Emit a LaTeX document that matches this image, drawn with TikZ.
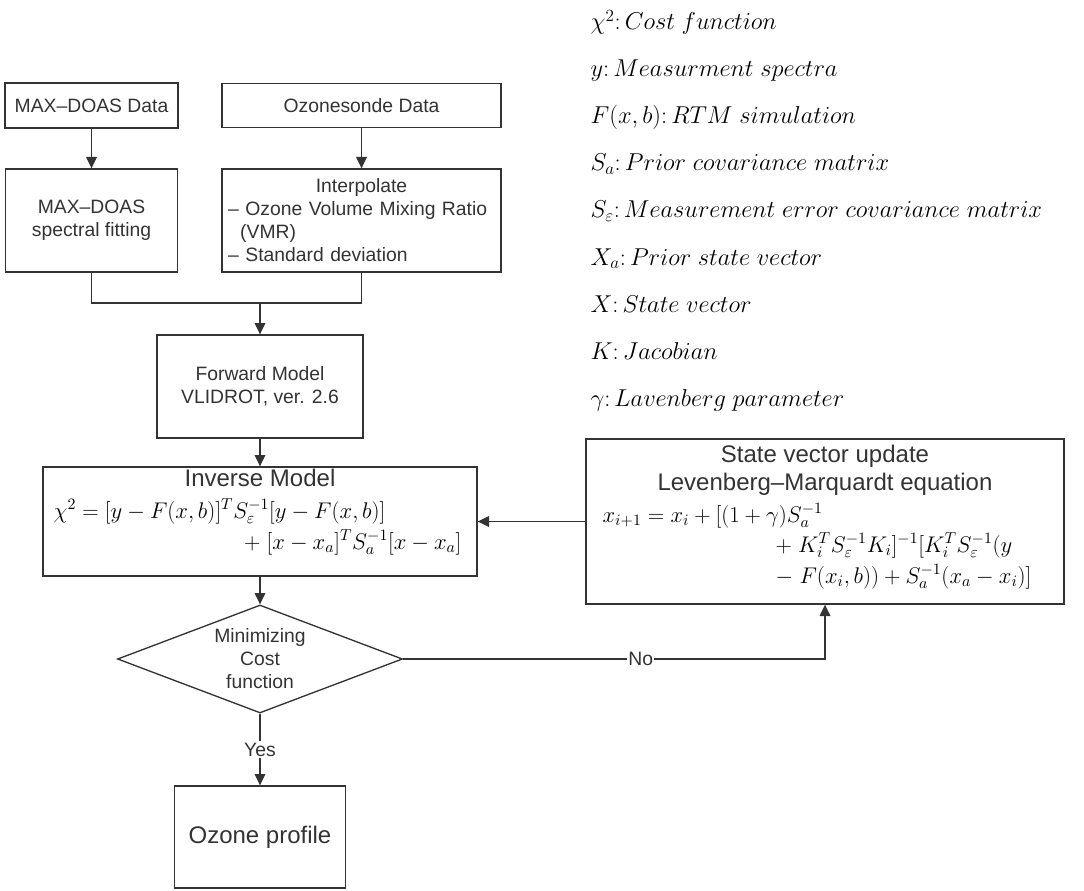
\RequirePackage{fix-cm}
\documentclass[tikz,border=0pt]{standalone}
\usepackage[no-math]{fontspec}
\setmainfont{Liberation Sans}
\usetikzlibrary{shapes.geometric}
\usetikzlibrary{arrows.meta}

\newcommand{\boxfont}{\fontsize{14.5}{17.25}\selectfont}
\newcommand{\titlefont}{\fontsize{18}{21}\selectfont}
\newcommand{\eqfont}{\fontsize{17}{20}\selectfont}
\newcommand{\legfont}{\fontsize{18.3}{22}\selectfont}

\begin{document}
\begin{tikzpicture}[x=0.75pt,y=-0.75pt,
    >={Triangle[length=8.5pt,width=8pt]},
    line width=0.9pt, draw=black!80,
    block/.style={
% The shape:
rectangle,
% The border:
draw=black!80, line width=1pt,
% The text:
align=center, inner sep=0pt, font=\boxfont, text=black!80
},
    decision/.style={
% The shape:
diamond, aspect=2.64,
% The size:
minimum width=213.75pt,
minimum height=81pt,
% The border:
draw=black!80, line width=1pt,
align=center, inner sep=0pt, font=\boxfont, text=black!80
},
    eqn/.style={inner sep=0pt, font=\eqfont, text=black},
    legend/.style={anchor=base west, inner sep=0pt, font=\legfont, text=black},
    lbl/.style={fill=white, inner sep=1pt, font=\boxfont, text=black!80},
]
  \useasboundingbox (0,0) rectangle (1084,891);

  % input data
  \node[block, minimum width=129.75pt, minimum height=33.75pt] (maxdata)   at (91.5,105.5)  {MAX--DOAS Data};
  \node[block, minimum width=209.25pt, minimum height=33pt]    (sondedata) at (361.5,105.5) {Ozonesonde Data};
  \node[block, minimum width=129pt, minimum height=77.25pt]    (maxfit)    at (91.5,220.5)  {MAX--DOAS\\spectral fitting};
  \node[block, minimum width=209.25pt, minimum height=77.25pt,
        align=left, text width=200pt]                          (interp)    at (361.5,220.5)
        {\makebox[\linewidth][c]{Interpolate}\\
         -- Ozone Volume Mixing Ratio\\
         \hspace{9pt}(VMR)\\
         -- Standard deviation};
  \coordinate (join) at (260,303);

  % models
  \node[block, minimum width=154.5pt, minimum height=77.25pt]  (forward)   at (260,386.5)  {Forward Model\\VLIDROT, ver. 2.6};
  \node[block, minimum width=325.5pt, minimum height=81.75pt]  (inverse)   at (260,521.5)  {};
  \node[block, draw=none, font=\titlefont]                     (invtitle)  at (260,478)    {Inverse Model};
  \node[eqn, anchor=base west] (inveqa) at (53,518)  {$\chi^2 = [y - F(x,b)]^T S_\varepsilon^{-1}[y - F(x,b)]$};
  \node[eqn, anchor=base east] (inveqb) at (462,549) {$+\;[x - x_a]^T S_a^{-1}[x - x_a]$};

  \node[block, minimum width=358.5pt, minimum height=123.75pt] (state)     at (825,521.5)  {};
  \node[block, draw=none, font=\titlefont]                     (sttitle)   at (825,470)    {State vector update\\Levenberg--Marquardt equation};
  \node[eqn, anchor=base west] (steqa) at (602,522) {$x_{i+1} = x_i + [(1+\gamma)S_a^{-1}$};
  \node[eqn, anchor=base west] (steqb) at (775,552) {$+\;K_i^T S_\varepsilon^{-1} K_i]^{-1}[K_i^T S_\varepsilon^{-1}(y$};
  \node[eqn, anchor=base west] (steqc) at (775,583) {$-\;F(x_i,b)) + S_a^{-1}(x_a - x_i)]$};

  % decision and result
  \node[decision]                                              (cost)      at (260,659)    {Minimizing\\Cost\\function};
  \node[block, minimum width=128.25pt, minimum height=76.5pt,
        font=\titlefont]                                       (profile)   at (260,837)    {Ozone profile};
  \coordinate (noturn) at (825,659);

  % symbols
  \node[legend] (lchi)   at (590,30)  {$\chi^2\colon Cost\ function$};
  \node[legend] (ly)     at (590,77)  {$y\colon Measurment\ spectra$};
  \node[legend] (lf)     at (590,124) {$F(x,b)\colon RTM\ simulation$};
  \node[legend] (lsa)    at (590,171) {$S_a\colon Prior\ covariance\ matrix$};
  \node[legend] (lse)    at (590,218) {$S_\varepsilon\colon Measurement\ error\ covariance\ matrix$};
  \node[legend] (lxa)    at (590,265) {$X_a\colon Prior\ state\ vector$};
  \node[legend] (lx)     at (590,312) {$X\colon State\ vector$};
  \node[legend] (lk)     at (590,359) {$K\colon Jacobian$};
  \node[legend] (lgamma) at (590,406) {$\gamma\colon Lavenberg\ parameter$};

  \draw[->] (maxdata)   -> (maxfit);
  \draw[->] (sondedata) -> (interp);
  \draw     (maxfit.south) |- (join);
  \draw     (interp.south) |- (join);
  \draw[->] (join)      -> (forward);
  \draw[->] (forward)   -> (inverse);
  \draw[->] (inverse)   -> (cost);
  \draw[->] (cost)      -> node[lbl] {Yes} (profile);
  \draw[->] (cost.east) -- node[lbl, pos=0.563] {No} (noturn) -> (state.south);
  \draw[->] (state.west) -> (inverse.east);
\end{tikzpicture}
\end{document}
